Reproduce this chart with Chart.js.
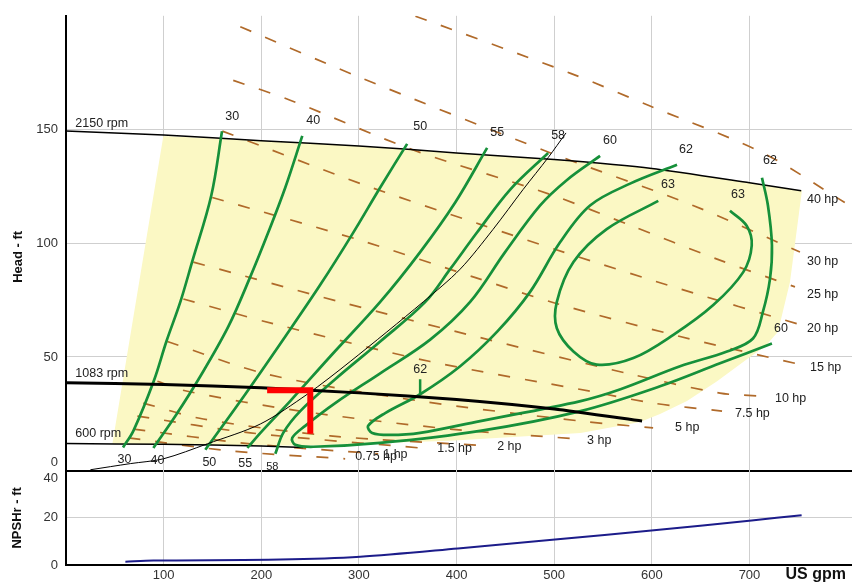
<!DOCTYPE html>
<html>
<head>
<meta charset="utf-8">
<script src="https://cdn.jsdelivr.net/npm/chart.js@4.4.1/dist/chart.umd.min.js"></script>
<style>
  html, body { margin: 0; padding: 0; background: #fff; }
  #wrap { width: 852px; height: 584px; }
</style>
</head>
<body>
<div id="wrap"><canvas id="pump" width="852" height="584"></canvas></div>
<script>
// ---- axis ticks ----
const flowTicks = [0, 100, 200, 300, 400, 500, 600, 700, 800];
const headTicks = [0, 50, 100, 150];
const npshTicks = [0, 20, 40];

// ---- speed curves (US gpm / ft) ----
const rpm2150Q = [0, 100, 200, 300, 400, 500, 600, 700, 753];
const rpm2150H = [149.3, 147.6, 145.1, 142.8, 139.7, 136.8, 132.9, 126.6, 123.1];
const rpm1083Q = [0, 100, 200, 300, 400, 500, 590];
const rpm1083H = [38.6, 37.9, 36.4, 34.2, 31.3, 27.1, 21.8];
const rpm600Q = [0, 100, 200, 243];
const rpm600H = [11.9, 11.6, 10.8, 10.2];

// ---- operating envelope ----
const envQ = [47.5, 99.7, 200, 300, 400, 500, 600, 700, 753.7, 741.5, 729.2, 716.0, 698.4, 666.8, 636.0, 608.4, 588.0, 527.0, 393.4, 239.9];
const envH = [11.8, 147.2, 145.1, 142.8, 139.7, 136.8, 132.9, 126.6, 123.1, 83.0, 61.1, 54.6, 49.3, 39.3, 30.6, 24.9, 21.4, 16.6, 13.1, 10.9];

// ---- iso-efficiency curves (%) ----
const eff30Q = [159.8, 148.8, 129.1, 117.1, 102.8, 89.8, 69.0, 58.4];
const eff30H = [149.2, 121.0, 91.7, 74.2, 56.8, 39.3, 17.5, 10.2];
const eff40Q = [242.0, 224.6, 207.2, 188.7, 166.2, 137.6, 112.0, 89.5];
const eff40H = [147.2, 124.5, 104.8, 85.2, 63.3, 41.5, 24.0, 10.0];
const eff50Q = [349.4, 321.8, 293.1, 260.4, 224.6, 183.6, 142.7];
const eff50H = [143.7, 124.5, 103.9, 81.7, 59.0, 33.6, 9.2];
const eff55Q = [431.3, 398.6, 362.7, 321.8, 270.6, 229.6, 201.0, 185.7];
const eff55H = [141.9, 117.9, 96.1, 74.2, 50.2, 30.6, 17.5, 10.0];
const eff58Q = [493.8, 454.9, 421.1, 393.4, 368.0, 321.8, 275.7, 239.9, 222.5, 214.4];
const eff58H = [139.7, 123.6, 104.8, 88.6, 74.2, 56.8, 40.2, 26.2, 16.6, 7.4];
const eff60Q = [547.0, 512.2, 485.6, 449.7, 413.9, 373.0, 321.8, 275.7, 245.0, 231.7, 234.8, 253.2, 321.8, 424.2, 527.0, 608.4, 669.8, 723.0];
const eff60H = [138.4, 127.5, 116.6, 96.1, 74.2, 57.6, 42.8, 29.7, 19.7, 14.4, 11.4, 10.5, 12.2, 17.5, 26.2, 37.1, 47.2, 55.9];
const eff62Q = [625.8, 577.7, 536.7, 506.0, 475.3, 441.6, 403.7, 362.7, 326.9, 309.5, 313.6, 332.0, 362.7, 424.2, 527.0, 567.9, 628.9, 677.0, 703.6, 713.8, 721.0, 723.0, 718.9, 712.8];
const eff62H = [134.5, 126.2, 116.6, 100.4, 78.6, 61.1, 45.9, 33.6, 25.3, 19.7, 16.6, 15.7, 16.6, 21.8, 30.6, 35.8, 45.9, 52.4, 58.1, 69.9, 84.3, 99.1, 116.6, 128.8];
const eff63Q = [606.6, 553.8, 519.7, 502.7, 502.7, 519.7, 543.6, 581.1, 622.0, 662.9, 693.6, 702.3, 697.1, 680.0];
const eff63H = [118.6, 106.2, 91.7, 74.2, 62.6, 52.4, 46.6, 49.5, 59.7, 72.8, 87.3, 99.0, 107.7, 114.3];
const mark62Q = [362.7, 362.7];
const mark62H = [40.2, 33.6];

// ---- iso-power curves (hp) ----
const hp40Q = [332.0, 516.8, 598.2, 713.8, 797.6];
const hp40H = [203.9, 174.7, 160.3, 139.7, 117.9];
const hp30Q = [178.5, 298.3, 496.3, 642.2, 751.7];
const hp30H = [195.2, 173.4, 139.7, 116.6, 96.1];
const hp25Q = [171.3, 229.6, 355.6, 496.3, 577.7, 666.8, 746.6];
const hp25H = [171.6, 162.9, 141.0, 121.4, 107.9, 93.0, 80.8];
const hp20Q = [160.1, 304.4, 424.2, 509.6, 628.9, 748.6];
const hp20H = [149.3, 125.8, 108.3, 96.1, 79.9, 64.6];
const hp15Q = [149.8, 301.3, 417.0, 503.0, 628.9, 746.6];
const hp15H = [120.1, 101.3, 85.2, 73.4, 59.0, 47.2];
const hp10Q = [130.4, 280.8, 424.2, 574.6, 669.8, 710.7];
const hp10H = [91.7, 74.2, 58.5, 42.8, 34.1, 32.8];
const hp75Q = [120.2, 212.4, 373.0, 537.3, 601.3, 671.9];
const hp75H = [75.5, 64.6, 48.0, 34.9, 29.7, 26.2];
const hp5Q = [103.8, 206.1, 362.7, 527.0, 601.3];
const hp5H = [56.8, 42.4, 30.6, 21.8, 18.8];
const hp3Q = [93.6, 124.3, 239.9, 393.4, 521.4];
const hp3H = [39.3, 34.9, 26.2, 18.3, 14.0];
const hp2Q = [79.2, 140.6, 270.6, 432.3];
const hp2H = [29.7, 22.7, 15.3, 10.9];
const hp15sQ = [73.1, 188.7, 373.0];
const hp15sH = [24.0, 16.6, 9.6];
const hp1Q = [69.0, 188.7, 319.7];
const hp1H = [18.3, 11.8, 7.4];
const hp075Q = [63.9, 168.3, 285.9];
const hp075H = [14.4, 8.7, 5.2];

// ---- system curve, duty point, NPSHr ----
const sysQ = [25, 65.9, 99.7, 144.7, 199, 247.1, 291.1, 365.8, 403.7, 437.4, 468.1, 493.7, 512.1];
const sysH = [0.4, 3.1, 5.2, 11.8, 20.5, 33.6, 48.0, 74.2, 88.6, 106.1, 123.6, 137.6, 148.5];
const dutyQ = [206, 250.2, 250.2];
const dutyH = [35.4, 35.4, 16.2];
const npshQ = [60.8, 89.5, 219.4, 301.3, 401.3, 500.9, 602.2, 702.2, 753.4];
const npshH = [1.4, 1.9, 2.3, 3.5, 7.0, 10.8, 14.7, 18.9, 21.1];

// ---- text on the plot ----
const chartTexts = [
  { t: '2150 rpm', q: 9.6, h: 152.8, align: 'left' },
  { t: '1083 rpm', q: 9.6, h: 42.8, align: 'left' },
  { t: '600 rpm', q: 9.6, h: 16.2, align: 'left' },
  { t: '30', q: 170.3, h: 155.9 }, { t: '40', q: 253.2, h: 154.1 },
  { t: '50', q: 362.7, h: 151.1 }, { t: '55', q: 441.6, h: 148.5 },
  { t: '58', q: 504.0, h: 147.2 }, { t: '60', q: 557.2, h: 145.0 },
  { t: '62', q: 635.0, h: 141.0 }, { t: '62', q: 721.0, h: 136.2 },
  { t: '63', q: 616.6, h: 125.8 }, { t: '63', q: 688.3, h: 121.4 },
  { t: '60', q: 732.2, h: 62.4 }, { t: '62', q: 362.7, h: 44.5 },
  { t: '30', q: 59.8, h: 4.8 }, { t: '40', q: 93.6, h: 4.4 },
  { t: '50', q: 146.8, h: 3.5 }, { t: '55', q: 183.6, h: 3.1 },
  { t: '58', q: 211.3, h: 1.7, size: 11 },
  { t: '40 hp', q: 758.9, h: 119.2, align: 'left' },
  { t: '30 hp', q: 758.9, h: 92.1, align: 'left' },
  { t: '25 hp', q: 758.9, h: 77.3, align: 'left' },
  { t: '20 hp', q: 758.9, h: 62.4, align: 'left' },
  { t: '15 hp', q: 762.0, h: 45.4, align: 'left' },
  { t: '10 hp', q: 726.1, h: 31.9, align: 'left' },
  { t: '7.5 hp', q: 685.2, h: 25.3, align: 'left' },
  { t: '5 hp', q: 623.8, h: 18.8, align: 'left' },
  { t: '3 hp', q: 533.7, h: 13.1, align: 'left' },
  { t: '2 hp', q: 441.6, h: 10.5, align: 'left' },
  { t: '1.5 hp', q: 380.2, h: 9.6, align: 'left' },
  { t: '0.75 hp', q: 296.3, h: 6.1, align: 'left' },
  { t: '1 hp', q: 324.9, h: 7.0, align: 'left' }
];

const FONT = '"Liberation Sans", Arial, Helvetica, sans-serif';
const GREEN = '#16903a';
const BROWN = '#b06a2a';
const GRID = '#cfcfcf';

function pts(q, h) { return q.map((v, i) => ({ x: v, y: h[i] })); }

function effLine(q, h) {
  return { data: pts(q, h), borderColor: GREEN, borderWidth: 2.7, tension: 0.35, yAxisID: 'y' };
}
function hpLine(q, h) {
  return { data: pts(q, h), borderColor: BROWN, borderWidth: 1.7, borderDash: [12, 15], tension: 0.3, yAxisID: 'y' };
}

// listed bottom layer first; Chart.js paints dataset 0 last, so the list is reversed below
const layers = [
  { data: pts(envQ, envH), fill: 'shape', backgroundColor: '#fbf8c4', borderWidth: 0, tension: 0, yAxisID: 'y' },
  hpLine(hp40Q, hp40H), hpLine(hp30Q, hp30H), hpLine(hp25Q, hp25H), hpLine(hp20Q, hp20H),
  hpLine(hp15Q, hp15H), hpLine(hp10Q, hp10H), hpLine(hp75Q, hp75H), hpLine(hp5Q, hp5H),
  hpLine(hp3Q, hp3H), hpLine(hp2Q, hp2H), hpLine(hp15sQ, hp15sH), hpLine(hp1Q, hp1H),
  hpLine(hp075Q, hp075H),
  { data: pts(rpm2150Q, rpm2150H), borderColor: '#000', borderWidth: 1.5, tension: 0.2, yAxisID: 'y' },
  { data: pts(rpm600Q, rpm600H), borderColor: '#000', borderWidth: 1.5, tension: 0.2, yAxisID: 'y' },
  effLine(eff30Q, eff30H), effLine(eff40Q, eff40H), effLine(eff50Q, eff50H),
  effLine(eff55Q, eff55H), effLine(eff58Q, eff58H), effLine(eff60Q, eff60H),
  effLine(eff62Q, eff62H), effLine(eff63Q, eff63H),
  { data: pts(mark62Q, mark62H), borderColor: GREEN, borderWidth: 2.5, yAxisID: 'y' },
  { data: pts(sysQ, sysH), borderColor: '#000', borderWidth: 1, tension: 0.3, yAxisID: 'y' },
  { data: pts(rpm1083Q, rpm1083H), borderColor: '#000', borderWidth: 3, tension: 0.2, yAxisID: 'y' },
  { data: pts(dutyQ, dutyH), borderColor: '#ff0000', borderWidth: 6, borderJoinStyle: 'miter', borderCapStyle: 'butt', yAxisID: 'y' },
  { data: pts(npshQ, npshH), borderColor: '#1c1c8a', borderWidth: 2, tension: 0.3, yAxisID: 'n' }
];

const textPlugin = {
  id: 'chartText',
  afterDraw(chart) {
    const { ctx, scales } = chart;
    const x = scales.x, y = scales.y, n = scales.n;
    ctx.save();
    ctx.textBaseline = 'middle';
    chartTexts.forEach(t => {
      ctx.font = (t.size || 12.5) + 'px ' + FONT;
      ctx.fillStyle = '#222';
      ctx.textAlign = t.align || 'center';
      ctx.fillText(t.t, x.getPixelForValue(t.q), y.getPixelForValue(t.h));
    });
    // tick labels that sit off the panel seam
    ctx.font = '13px ' + FONT;
    ctx.fillStyle = '#333';
    ctx.textAlign = 'right';
    ctx.fillText('0', y.right - 8, y.getPixelForValue(0) - 8);
    ctx.fillText('40', n.right - 8, n.getPixelForValue(40) + 8);
    ctx.font = 'bold 16px ' + FONT;
    ctx.fillStyle = '#111';
    ctx.fillText('US gpm', chart.chartArea.right - 6, x.top + 10);
    // head axis title sits a little below the panel centre
    ctx.save();
    ctx.translate(18, y.getPixelForValue(94));
    ctx.rotate(-Math.PI / 2);
    ctx.textAlign = 'center';
    ctx.font = 'bold 13px ' + FONT;
    ctx.fillText('Head - ft', 0, 0);
    ctx.restore();
    ctx.restore();
  }
};

new Chart(document.getElementById('pump'), {
  type: 'scatter',
  data: { datasets: layers.slice().reverse().map(d => Object.assign({ showLine: true, pointRadius: 0, fill: false }, d)) },
  options: {
    responsive: false,
    animation: false,
    events: [],
    layout: { padding: { top: 12, left: 0, right: 0, bottom: 0 } },
    plugins: { legend: { display: false }, tooltip: { enabled: false } },
    scales: {
      n: {
        type: 'linear', position: 'left', stack: 'panels', stackWeight: 95,
        min: 0, max: 40,
        afterBuildTicks: s => { s.ticks = npshTicks.map(v => ({ value: v })); },
        afterFit: s => { s.width = 66; },
        ticks: { padding: 8, color: '#333', font: { family: FONT, size: 13 }, callback: v => (v === 40 ? '' : v) },
        grid: { drawTicks: false, color: c => (c.tick && c.tick.value === 40 ? 'rgba(0,0,0,0)' : GRID) },
        border: { color: '#000', width: 2 },
        title: { display: true, text: 'NPSHr - ft', color: '#111', font: { family: FONT, size: 13, weight: 'bold' }, padding: { top: 10, bottom: 0 } }
      },
      y: {
        type: 'linear', position: 'left', stack: 'panels', stackWeight: 458,
        min: 0, max: 200,
        afterBuildTicks: s => { s.ticks = headTicks.map(v => ({ value: v })); },
        afterFit: s => { s.width = 66; },
        ticks: { padding: 8, color: '#333', font: { family: FONT, size: 13 }, callback: v => (v === 0 ? '' : v) },
        grid: {
          drawTicks: false,
          color: c => (c.tick && c.tick.value === 0 ? '#000' : GRID),
          lineWidth: c => (c.tick && c.tick.value === 0 ? 2 : 1)
        },
        border: { color: '#000', width: 2 },
        title: { display: false }
      },
      x: {
        type: 'linear', position: 'bottom', min: 0, max: 805,
        afterBuildTicks: s => { s.ticks = flowTicks.map(v => ({ value: v })); },
        afterFit: s => { s.height = 19; },
        ticks: { padding: 3, color: '#333', maxRotation: 0, font: { family: FONT, size: 13 }, callback: v => (v === 0 || v === 800 ? '' : v) },
        grid: { drawTicks: false, color: c => (c.tick && (c.tick.value === 0 || c.tick.value === 800) ? 'rgba(0,0,0,0)' : GRID) },
        border: { color: '#000', width: 2 }
      }
    }
  },
  plugins: [textPlugin]
});
</script>
</body>
</html>
